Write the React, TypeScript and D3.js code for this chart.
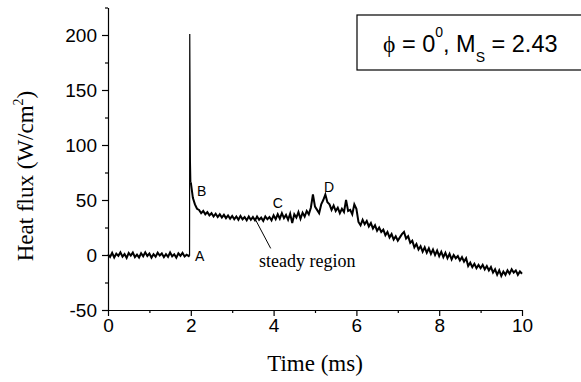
import React, { useRef, useEffect } from "react";
import * as d3 from "d3";

// time step of the sampled trace (ms)
const tStep = 0.05;

// heat flux (W/cm^2) every 0.05 ms, from t = 0 to t = 10
const flux: number[] = [
  0.5, -1.8, 1.9, -2.2, 1.2, -0.8, 2.4, -1.5, 0.9, -2.6,
  1.8, -0.6, 2.2, -1.9, 0.4, -2.3, 1.6, -1.1, 2.5, -0.9,
  1.3, -2.4, 0.7, -1.6, 2.1, -0.5, 1.4, -2.0, 0.8, -1.7,
  2.3, -1.2, 0.6, -2.5, 1.5, -0.7, 1.9, -1.4, 0.3, -1.0,
  66, 52, 46, 42, 41, 38, 40, 37, 39, 36,
  38, 35, 37.5, 34.5, 37, 34, 36.5, 33.5, 36, 33,
  35.5, 32.5, 35, 32, 35.5, 32.5, 34.5, 31.5, 35, 32,
  34.5, 31.5, 35, 32, 34, 31, 35, 32.5, 34.5, 31.5,
  36, 32.5, 37, 33, 38, 33.5, 36.5, 32, 37.5, 29,
  37, 34, 39, 33, 38.5, 35, 40, 37, 43, 55,
  44, 41, 38, 46, 50, 55, 48, 46, 41, 45,
  40, 43, 38, 42, 39, 50, 40, 41, 37, 46,
  42, 30, 27, 32, 28, 31, 26, 29, 24, 27,
  22, 25, 21, 23, 18, 21, 16, 19, 14, 17,
  13, 16, 19, 21, 15, 17, 11, 13, 7, 10,
  5, 8, 3, 7, 2, 6, 1, 5, 0, 4,
  -1, 3, -2, 2, -3, 1, -4, 0, -3, -1,
  -5, -2, -6, -3, -10, -7, -11, -8, -12, -9,
  -12, -9, -13, -10, -14, -11, -16, -13, -18, -14,
  -19, -15, -18, -14, -17, -13, -16, -14, -18, -15,
  -17,
];

// the shock arrival spike, between the 1.95 and 2.00 samples
const spikeTime = [1.97, 1.975, 1.985, 1.99];
const spikeFlux = [0, 201, 110, 85];

const xTicks = [0, 2, 4, 6, 8, 10];
const xMinor = [1, 3, 5, 7, 9];
const yTicks = [-50, 0, 50, 100, 150, 200];
const yMinor = [-25, 25, 75, 125, 175, 225];

// point labels [text, time, flux]
const marks: [string, number, number][] = [
  ["A", 2.1, -5],
  ["B", 2.15, 54],
  ["C", 3.98, 43],
  ["D", 5.22, 57],
];

export default function App() {
  const chartRef = useRef<SVGSVGElement | null>(null);

  useEffect(() => {
    drawChart();
  }, []);

  const drawChart = () => {
    const width = 581;
    const height = 382;

    const x = d3.scaleLinear().domain([0, 10]).range([108, 522]);
    const y = d3.scaleLinear().domain([-50, 225]).range([310, 7.5]);

    const svg = d3.select(chartRef.current);
    svg.selectAll("*").remove();
    svg.attr("width", width).attr("height", height);

    const samples: [number, number][] = flux.map((v, i) => [i * tStep, v]);
    const spike: [number, number][] = spikeTime.map((t, i) => [t, spikeFlux[i]]);

    // noisy parts are drawn thick, the spike itself thin
    const before = [...samples.filter((d) => d[0] < 1.96), spike[0]];
    const after = samples.filter((d) => d[0] > 1.99);
    const peak = [...spike, after[0]];

    const line = d3
      .line<[number, number]>()
      .x((d) => x(d[0]))
      .y((d) => y(d[1]));

    const trace = (data: [number, number][], w: number) => {
      svg
        .append("path")
        .datum(data)
        .attr("fill", "none")
        .attr("stroke", "#000")
        .attr("stroke-width", w)
        .attr("d", line);
    };
    trace(before, 2);
    trace(peak, 1.2);
    trace(after, 2);

    const sans = "'Liberation Sans', Arial, sans-serif";
    const serif = "'Liberation Serif', 'Times New Roman', serif";

    // x axis
    const gx = svg.append("g").attr("transform", `translate(0, ${y(-50)})`);
    gx.call(
      d3.axisBottom(x).tickValues(xTicks).tickSize(6).tickSizeOuter(0).tickPadding(3)
        .tickFormat((d) => String(d))
    );
    gx.append("g").call(
      d3.axisBottom(x).tickValues(xMinor).tickSize(3).tickSizeOuter(0).tickFormat(() => "")
    ).select(".domain").remove();

    // y axis
    const gy = svg.append("g").attr("transform", `translate(${x(0)}, 0)`);
    gy.call(
      d3.axisLeft(y).tickValues(yTicks).tickSize(6).tickSizeOuter(0).tickPadding(5)
        .tickFormat((d) => String(d))
    );
    gy.append("g").call(
      d3.axisLeft(y).tickValues(yMinor).tickSize(3).tickSizeOuter(0).tickFormat(() => "")
    ).select(".domain").remove();

    svg.selectAll(".tick text").attr("font-family", sans).attr("font-size", 19).attr("fill", "#000");
    svg.selectAll(".domain, .tick line").attr("stroke", "#000").attr("stroke-width", 1.2);

    // axis titles
    svg
      .append("text")
      .attr("x", 315)
      .attr("y", 371)
      .attr("text-anchor", "middle")
      .attr("font-family", serif)
      .attr("font-size", 23)
      .text("Time (ms)");

    const yl = svg
      .append("text")
      .attr("transform", "translate(33, 176) rotate(-90)")
      .attr("text-anchor", "middle")
      .attr("font-family", serif)
      .attr("font-size", 23);
    yl.append("tspan").text("Heat flux (W/cm");
    yl.append("tspan").attr("dy", -10).attr("font-size", 14).text("2");
    yl.append("tspan").attr("dy", 10).text(")");

    // point labels
    svg
      .selectAll(".mark")
      .data(marks)
      .enter()
      .append("text")
      .attr("class", "mark")
      .attr("x", (d) => x(d[1]))
      .attr("y", (d) => y(d[2]))
      .attr("font-family", sans)
      .attr("font-size", 14)
      .text((d) => d[0]);

    // steady region note
    svg
      .append("line")
      .attr("x1", x(3.55))
      .attr("y1", y(33))
      .attr("x2", x(3.93))
      .attr("y2", y(6))
      .attr("stroke", "#000")
      .attr("stroke-width", 1);
    svg
      .append("text")
      .attr("x", x(3.65))
      .attr("y", y(-11))
      .attr("font-family", serif)
      .attr("font-size", 18)
      .text("steady region");

    // legend box
    svg
      .append("rect")
      .attr("x", 357)
      .attr("y", 15)
      .attr("width", 240)
      .attr("height", 55)
      .attr("fill", "none")
      .attr("stroke", "#000")
      .attr("stroke-width", 1.2);

    const lt = svg
      .append("text")
      .attr("x", 383)
      .attr("y", 52)
      .attr("font-family", sans)
      .attr("font-size", 23.5);
    lt.append("tspan").attr("font-family", serif).text("\u03d5");
    lt.append("tspan").text(" = 0");
    lt.append("tspan").attr("dy", -15).attr("font-size", 14).text("0");
    lt.append("tspan").attr("dy", 15).text(", M");
    lt.append("tspan").attr("dy", 10).attr("font-size", 14).text("S");
    lt.append("tspan").attr("dy", -10).text(" = 2.43");
  };

  return (
    <div style={{ position: "absolute", left: 0, top: 0 }}>
      <svg ref={chartRef} style={{ display: "block", background: "#fff" }} />
    </div>
  );
}
